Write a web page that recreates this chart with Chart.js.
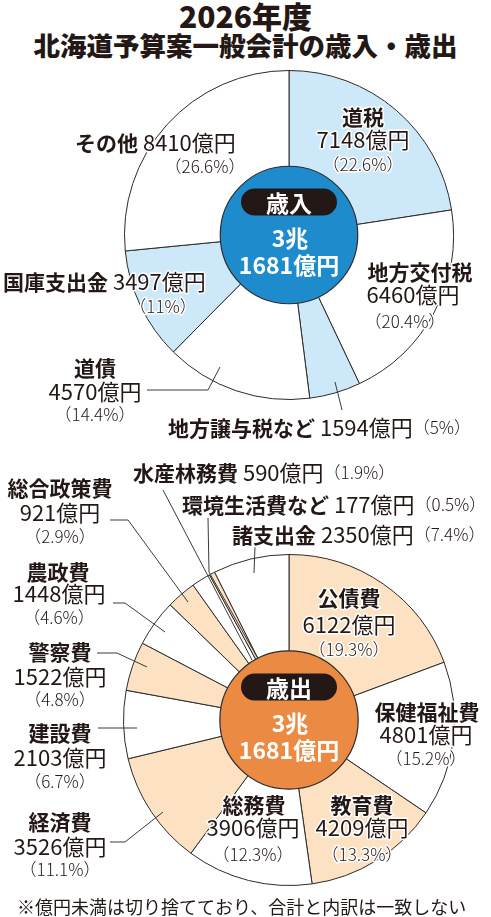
<!DOCTYPE html>
<html><head><meta charset="utf-8">
<script src="https://cdn.jsdelivr.net/npm/chart.js@4"></script>
<style>
html,body{margin:0;padding:0;background:#fff;width:491px;height:917px;overflow:hidden}
.t{position:absolute;left:0;width:491px;text-align:center;font-family:"Noto Sans CJK JP","Noto Sans",sans-serif;font-weight:900;color:#231815;white-space:nowrap}
canvas{position:absolute;left:0}
</style></head><body>
<div class="t" style="top:-4px;font-size:30px;line-height:38px">2026年度</div>
<div class="t" style="top:28px;font-size:26.5px;line-height:34px">北海道予算案一般会計の歳入・歳出</div>
<canvas id="c1" width="491" height="450" style="top:0"></canvas>
<canvas id="c2" width="491" height="467" style="top:450px"></canvas>
<script>
// ---- data ----
const revenueCategories = ['道税','地方交付税','地方譲与税など','道債','国庫支出金','その他'];
const revenueValues = [7148, 6460, 1594, 4570, 3497, 8410];
const revenuePercents = ['22.6','20.4','5','14.4','11','26.6'];
const revenueTotalLines = ['3兆','1681億円'];

const expenditureCategories = ['公債費','保健福祉費','教育費','総務費','経済費','建設費','警察費','農政費','総合政策費','水産林務費','環境生活費など','諸支出金'];
const expenditureValues = [6122, 4801, 4209, 3906, 3526, 2103, 1522, 1448, 921, 590, 177, 2350];
const expenditurePercents = ['19.3','15.2','13.3','12.3','11.1','6.7','4.8','4.6','2.9','1.9','0.5','7.4'];
const expenditureTotalLines = ['3兆','1681億円'];

const footnote = '※億円未満は切り捨てており、合計と内訳は一致しない';

// ---- styles ----
const INK = '#231815';
const FF = '"Noto Sans CJK JP","Noto Sans",sans-serif';
const F_NAME = 'bold 21px ' + FF;
const F_VAL = '400 22px ' + FF;
const F_PCT = '300 17px ' + FF;
const BLUE_LIGHT = '#cde8f8', PEACH = '#fde1c3';

// label layouts (page coordinates)
const revLayout = [
  {mode:'stack', x:[363,363,363], y:[117,140,165]},
  {mode:'stack', x:[420,413,405], y:[272,295,322]},
  {mode:'line', x:168, y:428},
  {mode:'stack', x:[95,95,95], y:[368,392,415]},
  {mode:'split', x:3, y:282, px:163, py:307},
  {mode:'split', x:75, y:143, px:205, py:167}
];
const revLeaders = [null,null,[[342,410],[335,382]],[[147,390],[208,390],[220,367]],null,null];

const expLayout = [
  {mode:'stack', x:[349,349,349], y:[598,625,650]},
  {mode:'stack', x:[427,426,426], y:[712,735,759]},
  {mode:'stack', x:[362,362,362], y:[805,828,855]},
  {mode:'stack', x:[254,253,253], y:[805,828,855]},
  {mode:'stack', x:[60,60,60], y:[822,847,870]},
  {mode:'stack', x:[60,60,60], y:[733,758,782]},
  {mode:'stack', x:[60,60,60], y:[652,677,700]},
  {mode:'stack', x:[58,59,59], y:[572,594,618]},
  {mode:'stack', x:[60,60,60], y:[488,513,537]},
  {mode:'line', x:133, y:473},
  {mode:'line', x:182, y:505},
  {mode:'line', x:232, y:535}
];
const expLeaders = [null,null,null,null,
  [[110,842],[125,842],[163,812]],
  [[98,728],[137,728]],
  [[97,653],[117,653],[147,667]],
  [[113,603],[125,603],[165,632]],
  [[110,520],[128,520],[188,602]],
  [[163,490],[252,660]],
  [[208,518],[209,572],[257,657]],
  [[255,547],[254,573]]
];

function fmtVal(v){ return v + '億円'; }
function fmtPct(p){ return '（' + p + '%）'; }

function drawRuns(ctx, runs, x, y, align){
  let w = 0;
  runs.forEach(r => { ctx.font = r.font; w += ctx.measureText(r.text).width; });
  let sx = align === 'center' ? x - w/2 : x;
  ctx.textBaseline = 'middle';
  ctx.textAlign = 'left';
  runs.forEach(r => {
    ctx.font = r.font;
    ctx.lineWidth = 3; ctx.strokeStyle = '#fff'; ctx.lineJoin = 'round';
    ctx.strokeText(r.text, sx, y);
    ctx.fillStyle = INK;
    ctx.fillText(r.text, sx, y);
    sx += ctx.measureText(r.text).width;
  });
}

function makeDeco(offsetY, cats, vals, pcts, layout, leaders, centerColor, centerTitle, totalLines, extra){
  return {
    id: 'deco',
    afterDatasetsDraw(chart){
      const ctx = chart.ctx;
      const arc = chart.getDatasetMeta(0).data[0];
      const cx = arc.x, cy = arc.y, R = arc.outerRadius;
      ctx.save();
      ctx.strokeStyle = '#3a3a3a'; ctx.lineWidth = 1;
      leaders.forEach(L => {
        if (!L) return;
        ctx.beginPath();
        L.forEach((p,i) => { const yy = p[1] - offsetY; if (i===0) ctx.moveTo(p[0], yy); else ctx.lineTo(p[0], yy); });
        ctx.stroke();
      });
      const r = R * 0.418;
      ctx.beginPath(); ctx.arc(cx, cy, r, 0, Math.PI*2);
      ctx.fillStyle = centerColor; ctx.fill();
      ctx.strokeStyle = '#2b2b2b'; ctx.lineWidth = 1.2; ctx.stroke();
      const pw = 96, ph = 27, py = cy - 33;
      ctx.beginPath();
      ctx.roundRect(cx - pw/2, py - ph/2, pw, ph, ph/2);
      ctx.fillStyle = INK; ctx.fill();
      ctx.fillStyle = '#fff'; ctx.textAlign = 'center'; ctx.textBaseline = 'middle';
      ctx.font = 'bold 23px ' + FF;
      ctx.fillText(centerTitle, cx, py + 1);
      ctx.font = 'bold 23px ' + FF;
      ctx.fillText(totalLines[0], cx + 1, cy + 3);
      ctx.fillText(totalLines[1], cx, cy + 30);
      cats.forEach((c,i) => {
        const L = layout[i];
        const name = {text:c, font:F_NAME}, val = {text:fmtVal(vals[i]), font:F_VAL}, pct = {text:fmtPct(pcts[i]), font:F_PCT};
        if (L.mode === 'stack'){
          drawRuns(ctx, [name], L.x[0], L.y[0]-offsetY, 'center');
          drawRuns(ctx, [val], L.x[1], L.y[1]-offsetY, 'center');
          drawRuns(ctx, [pct], L.x[2], L.y[2]-offsetY, 'center');
        } else if (L.mode === 'line'){
          drawRuns(ctx, [name, {text:' ', font:F_VAL}, val, pct], L.x, L.y-offsetY, 'left');
        } else {
          drawRuns(ctx, [name, {text:' ', font:F_VAL}, val], L.x, L.y-offsetY, 'left');
          drawRuns(ctx, [pct], L.px, L.py-offsetY, 'center');
        }
      });
      if (extra) extra(ctx);
      ctx.restore();
    }
  };
}

Chart.defaults.font.family = FF;

new Chart(document.getElementById('c1'), {
  type: 'pie',
  data: {
    labels: revenueCategories,
    datasets: [{
      data: revenueValues,
      backgroundColor: [BLUE_LIGHT,'#ffffff',BLUE_LIGHT,'#ffffff',BLUE_LIGHT,'#ffffff'],
      borderColor: '#2b2b2b', borderWidth: 1
    }]
  },
  options: {
    responsive: false, animation: false, devicePixelRatio: 1,
    layout: {padding: {left:124, right:37, top:70, bottom:50}},
    plugins: {legend:{display:false}, tooltip:{enabled:false}}
  },
  plugins: [makeDeco(0, revenueCategories, revenueValues, revenuePercents, revLayout, revLeaders, '#1e8bcd', '歳入', revenueTotalLines, null)]
});

new Chart(document.getElementById('c2'), {
  type: 'pie',
  data: {
    labels: expenditureCategories,
    datasets: [{
      data: expenditureValues,
      backgroundColor: expenditureValues.map((v,i) => i % 2 === 0 ? PEACH : '#ffffff'),
      borderColor: '#2b2b2b', borderWidth: 1
    }]
  },
  options: {
    responsive: false, animation: false, devicePixelRatio: 1,
    layout: {padding: {left:123, right:36, top:104, bottom:31}},
    plugins: {legend:{display:false}, tooltip:{enabled:false}}
  },
  plugins: [makeDeco(450, expenditureCategories, expenditureValues, expenditurePercents, expLayout, expLeaders, '#eb8a42', '歳出', expenditureTotalLines,
    ctx => { drawRuns(ctx, [{text:footnote, font:'400 18px ' + FF}], 17, 907-450, 'left'); })]
});
</script>
</body></html>
